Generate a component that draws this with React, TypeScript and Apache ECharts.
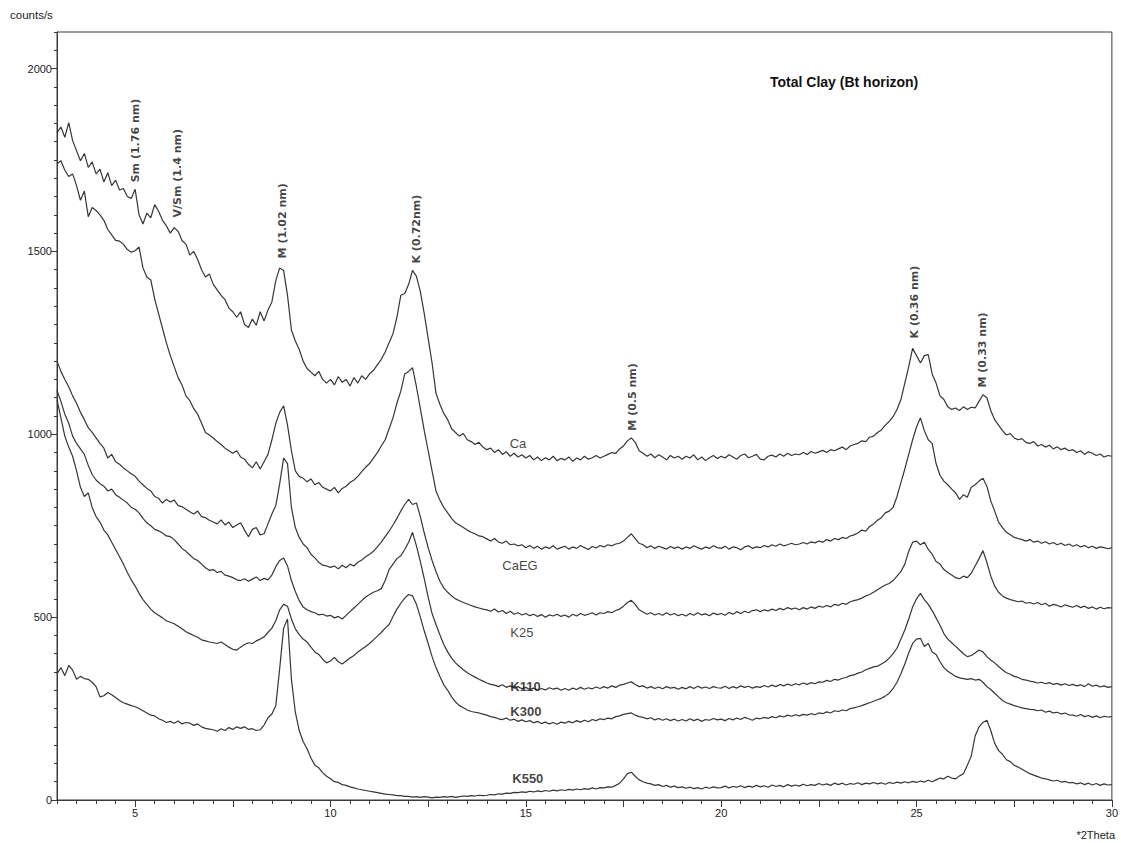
import React, { useEffect, useRef } from "react";
import * as echarts from "echarts";

// 2Theta grid (degrees), 3.0 .. 30.0 in 0.1 steps
const twoTheta: number[] = Array.from({ length: 271 }, (_, i) => Math.round(30 + i) / 10);

// counts/s, one row per degree (x.0 .. x.9), last value at 30.0
const ca = [
  1825, 1840, 1812, 1852, 1803, 1775, 1748, 1768, 1730, 1745,
  1712, 1725, 1690, 1715, 1680, 1695, 1668, 1672, 1650, 1645,
  1670, 1600, 1575, 1605, 1592, 1628, 1610, 1585, 1570, 1550,
  1565, 1555, 1530, 1520, 1490, 1500, 1478, 1450, 1430, 1438,
  1410, 1395, 1380, 1368, 1345, 1335, 1320, 1335, 1300, 1292,
  1315, 1298, 1335, 1310, 1340, 1362, 1420, 1455, 1448, 1380,
  1285, 1255, 1232, 1200, 1180, 1170, 1160, 1172, 1150, 1140,
  1150, 1135, 1158, 1142, 1150, 1132, 1155, 1140, 1160, 1150,
  1165, 1175, 1190, 1205, 1225, 1250, 1275, 1320, 1380, 1385,
  1410, 1448, 1432, 1390, 1330, 1262, 1195, 1112, 1082, 1057,
  1040, 1015, 1005, 995, 1002, 985, 980, 972, 978, 965,
  958, 962, 950, 958, 945, 952, 940, 948, 938, 944,
  935, 942, 930, 938, 928, 936, 930, 940, 928, 934,
  930, 938, 926, 935, 930, 940, 932, 936, 942, 935,
  940, 945, 950, 948, 960, 968, 982, 990, 978, 955,
  948, 940, 946, 936, 944, 938, 930, 942, 935, 940,
  932, 940, 935, 944, 930, 938, 928, 936, 942, 934,
  940, 935, 944, 938, 932, 942, 946, 936, 940, 945,
  932, 930, 940, 943, 938, 946, 940, 948, 942, 946,
  944, 950, 945, 953, 948, 952, 956, 950, 958, 955,
  960, 965, 958, 968, 972, 975, 982, 980, 992, 995,
  1005, 1012, 1025, 1035, 1048, 1068, 1095, 1140, 1185, 1235,
  1215, 1195, 1215, 1218, 1165, 1140, 1105, 1095, 1075, 1068,
  1072, 1065, 1075, 1068, 1074, 1072, 1090, 1108, 1100, 1065,
  1040, 1025, 1010, 998, 1002, 990, 985, 988, 978, 975,
  980, 968, 972, 965, 970, 960, 966, 958, 962, 955,
  958, 950, 955, 945, 952, 948, 942, 946, 938, 942,
  940,
];

const caEG = [
  1740, 1748, 1722, 1705, 1712, 1680, 1640, 1665, 1595, 1620,
  1612, 1600, 1585, 1560, 1545, 1530, 1528, 1520, 1505, 1498,
  1502, 1512, 1455, 1430, 1422, 1370, 1330, 1290, 1250, 1215,
  1185, 1155, 1135, 1105, 1092, 1070, 1055, 1030, 1005, 998,
  990, 980, 972, 962, 955, 948, 955, 938, 932, 918,
  908, 925, 905, 925, 945, 985, 1030, 1060, 1078, 1025,
  955, 900, 885, 880, 870, 878, 862, 868, 855, 850,
  845, 855, 840, 852, 858, 868, 875, 885, 898, 910,
  920, 935, 950, 968, 985, 1015, 1045, 1085, 1118, 1165,
  1172, 1182, 1130, 1070, 1010, 955, 900, 845, 820, 800,
  785, 770, 758, 752, 745, 738, 732, 728, 722, 720,
  714, 708, 715, 705, 702, 708, 698, 700, 695, 698,
  690, 696, 688, 694, 686, 692, 688, 695, 686, 690,
  694, 686, 692, 688, 696, 690, 685, 693, 689, 696,
  692, 698, 695, 700, 702, 708, 718, 728, 715, 702,
  698, 690, 695, 688, 694, 690, 686, 693, 688, 692,
  686, 692, 688, 695, 690, 686, 692, 688, 695, 690,
  688, 694, 686, 692, 690, 684, 692, 695, 688, 692,
  690, 696, 692, 698, 694, 700, 695, 698, 702, 698,
  700, 704, 700, 706, 703, 708, 705, 712, 708, 715,
  712, 718, 715, 722, 725, 730, 738, 735, 748, 755,
  765, 772, 785, 790, 800, 830, 868, 905, 945, 985,
  1020, 1045, 1010, 985, 975, 920, 888, 872, 862, 850,
  840, 822, 835, 828, 855, 862, 872, 880, 858, 818,
  790, 760, 745, 732, 725, 718, 715, 712, 708, 712,
  705, 708, 702, 706, 700, 704, 698, 702, 696, 700,
  694, 698, 692, 696, 690, 694, 688, 692, 690, 687,
  690,
];

const k25 = [
  1200, 1172, 1150, 1130, 1105, 1085, 1060, 1040, 1018, 1005,
  990, 975, 962, 935, 945, 925, 918, 908, 900, 892,
  885, 872, 862, 852, 845, 830, 825, 812, 822, 815,
  820, 805, 802, 795, 788, 782, 790, 775, 772, 765,
  760, 755, 766, 752, 760, 745, 752, 758, 738, 720,
  740, 745, 725, 728, 755, 782, 805, 865, 935, 920,
  800, 745, 718, 700, 690, 672, 662, 650, 642, 640,
  636, 640, 632, 642, 635, 645, 640, 650, 656, 665,
  672, 680, 692, 705, 720, 735, 752, 770, 790, 808,
  822, 808, 812, 775, 730, 690, 655, 625, 598, 580,
  568, 558, 550, 545, 540, 536, 532, 528, 525, 522,
  520, 516, 522, 514, 518, 510, 516, 508, 512, 506,
  510, 504, 508, 502, 507, 500, 506, 503, 508, 502,
  506, 500, 508, 503, 510, 505, 508, 512, 506, 512,
  510, 515, 512, 518, 522, 530, 540, 546, 535, 520,
  514, 508, 512, 506, 510, 505, 512, 506, 510, 504,
  508, 503, 510, 505, 512, 506, 509, 504, 511, 507,
  510, 505, 513, 508, 515, 510, 516, 512, 518, 520,
  515, 520, 517, 522, 518, 524, 520, 526, 522, 525,
  520, 526, 522, 528, 524, 530, 527, 532, 528, 535,
  532, 538, 535, 542, 545, 548, 552, 558, 562, 568,
  575, 582, 588, 592, 600, 612, 625, 645, 680, 705,
  708, 698, 705, 685, 672, 652, 645, 630, 622, 615,
  608, 605, 612, 608, 620, 640, 660, 682, 650, 612,
  585, 568, 558, 552, 548, 545, 542, 544, 538, 540,
  536, 540, 534, 538, 530, 535, 532, 528, 534, 530,
  527, 532, 526, 530, 524, 528, 522, 527, 523, 526,
  525,
];

const k110 = [
  1120, 1090, 1055, 1030, 995, 975, 960, 945, 915, 890,
  875, 865, 858, 845, 850, 835, 828, 820, 812, 800,
  795, 785, 770, 758, 750, 740, 736, 730, 722, 720,
  712, 700, 688, 680, 670, 660, 655, 645, 635, 628,
  630, 622, 625, 615, 612, 608, 602, 600, 605, 598,
  604, 610, 600, 606, 602, 615, 638, 655, 662, 640,
  600, 570, 545, 528, 520, 515, 512, 506, 508, 503,
  505, 498, 502, 495, 505, 515, 525, 535, 545, 555,
  562, 568, 572, 578, 600, 630, 645, 660, 668, 685,
  705, 732, 695, 652, 605, 555, 510, 480, 452, 425,
  405, 388, 375, 365, 356, 348, 342, 336, 330, 325,
  320, 316, 314, 310, 315, 308, 312, 306, 310, 304,
  308, 302, 306, 300, 305, 301, 307, 303, 306, 300,
  305, 300, 306, 302, 308, 303, 307, 304, 309, 305,
  310, 306, 312, 308, 314, 316, 320, 323, 316, 310,
  312, 306, 310, 305, 309, 304, 310, 306, 308, 303,
  308, 304, 310, 305, 311, 306, 309, 305, 310, 307,
  306, 311, 305, 310, 306, 312, 308, 311, 306, 310,
  308, 313, 309, 314, 310, 316, 312, 317, 313, 318,
  315, 320, 316, 321, 318, 323, 322, 327, 324, 330,
  328, 333, 335, 340, 342, 347, 350, 356, 360, 364,
  366, 372, 378, 388, 400, 415, 440, 465, 495, 528,
  550, 565, 548, 535, 518, 498, 478, 455, 440, 430,
  420, 410, 400, 392, 395, 402, 410, 405, 392, 383,
  375, 365, 356, 348, 344, 338, 335, 330, 328, 325,
  323, 320, 322, 318, 321, 316, 319, 314, 318, 313,
  316, 312, 315, 310, 318, 311, 314, 309, 312, 308,
  310,
];

const k300 = [
  1095, 1045, 995, 965, 940, 900, 855, 830, 840, 800,
  775, 760, 738, 725, 705, 685, 665, 645, 622, 602,
  585, 565, 548, 535, 522, 512, 505, 498, 490, 486,
  482, 475, 468, 460, 455, 450, 445, 438, 435, 432,
  430, 428, 432, 425, 418, 412, 410, 418, 425, 430,
  428, 435, 440, 446, 458, 470, 490, 520, 535, 530,
  495, 468, 452, 440, 432, 418, 405, 398, 385, 375,
  380, 390, 378, 372, 380, 388, 395, 405, 412, 420,
  428, 438, 448, 458, 470, 480, 502, 522, 538, 552,
  562, 558, 535, 500, 462, 428, 392, 362, 338, 315,
  300, 282, 268, 258, 252, 246, 242, 240, 238, 235,
  232, 228, 226, 222, 220, 224, 218, 221, 215, 219,
  214, 217, 211, 215, 209, 213, 208, 212, 207, 213,
  210, 215, 211, 217, 213, 218, 214, 220, 217, 222,
  220, 224, 222, 228, 230, 234, 236, 238, 232, 228,
  226, 222, 225, 219, 223, 218, 222, 217, 221, 216,
  220, 216, 222, 217, 221, 215, 220, 218, 223, 219,
  221, 217, 223, 219, 224, 220, 226, 222, 218, 224,
  222, 226, 223, 228, 225, 230, 227, 232, 229, 233,
  230, 234, 232, 236, 233, 238, 236, 241, 238, 244,
  242, 246, 244, 250, 252, 255, 258, 262, 266, 270,
  274, 278, 284, 292, 305, 322, 345, 372, 402, 428,
  440, 442, 420, 428, 405, 398, 378, 362, 352, 345,
  338, 334, 332, 330, 332, 328, 330, 322, 310, 302,
  292, 282, 272, 266, 262, 258, 255, 252, 250, 248,
  247, 244, 246, 240, 243, 238, 240, 235, 238, 233,
  232, 229, 234, 228, 231, 226, 230, 225, 229, 227,
  228,
];

const k550 = [
  345, 362, 340, 368, 355, 330, 338, 332, 330, 322,
  310, 282, 285, 294, 288, 280, 272, 266, 262, 258,
  255, 250, 244, 238, 232, 230, 222, 218, 212, 215,
  210, 216, 208, 212, 210, 204, 208, 200, 196, 194,
  192, 188, 195, 190, 198, 193, 200, 196, 200, 193,
  195, 190, 192, 205, 225, 235, 258, 360, 470, 495,
  330, 240, 190, 160, 140, 115, 95, 88, 75, 65,
  58, 50, 48, 42, 40, 36, 33, 30, 28, 26,
  24, 22, 20, 18, 16, 15, 14, 12, 12, 10,
  10, 8, 9, 7, 9, 8, 6, 8, 7, 9,
  8, 10, 7, 9, 11, 10, 12, 11, 13, 12,
  13, 15, 14, 17, 16, 19, 18, 21, 20, 22,
  21, 24, 22, 25, 23, 26, 24, 27, 25, 28,
  26, 29, 27, 30, 28, 31, 29, 33, 30, 34,
  33, 36, 35, 40, 46, 58, 72, 76, 65, 55,
  50, 46, 44, 40, 42, 37, 40, 35, 38, 34,
  36, 32, 35, 31, 34, 30, 35, 32, 36, 33,
  34, 38, 33, 37, 35, 39, 34, 38, 35, 40,
  36, 39, 35, 41, 37, 40, 36, 42, 38, 41,
  38, 43, 39, 42, 40, 45, 41, 44, 40, 46,
  42, 46, 41, 45, 43, 47, 42, 46, 44, 48,
  44, 47, 43, 48, 45, 49, 46, 50, 47, 51,
  48, 52, 49, 54, 50, 55, 60, 58, 65, 60,
  58, 66, 72, 95, 120, 175, 200, 212, 218, 190,
  155, 135, 125, 110, 105, 95, 90, 84, 78, 72,
  68, 64, 60, 58, 55, 52, 54, 49, 51, 47,
  48, 44, 47, 42, 46, 41, 45, 40, 44, 41,
  42,
];

const seriesNames = ["Ca", "CaEG", "K25", "K110", "K300", "K550"];
const seriesValues = [ca, caEG, k25, k110, k300, k550];

// curve name labels: [2Theta, counts/s] of the label centre
const nameLabelX = [14.8, 14.85, 14.9, 14.99, 15.0, 15.05];
const nameLabelY = [974, 640, 458, 309, 243, 60];
const nameLabelBold = [false, false, false, true, true, true];

// reflection labels: text, 2Theta, counts/s where the (vertical) text begins
const peakTexts = ["Sm (1.76 nm)", "V/Sm (1.4 nm)", "M (1.02 nm)", "K (0.72nm)", "M (0.5 nm)", "K (0.36 nm)", "M (0.33 nm)"];
const peakX = [5.0, 6.08, 8.78, 12.21, 17.74, 24.96, 26.7];
const peakY = [1689, 1593, 1481, 1467, 1010, 1262, 1128];

const xLabelValues = [5, 10, 15, 20, 25, 30];
const xMajorTicks = [5, 7.5, 10, 12.5, 15, 17.5, 20, 22.5, 25, 27.5, 30];
const yLabelValues = [0, 500, 1000, 1500, 2000];

const TITLE = "Total Clay (Bt horizon)";

export default function App() {
  const ref = useRef<HTMLDivElement>(null);
  useEffect(() => {
    if (!ref.current) return;
    const chart = echarts.init(ref.current, undefined, { renderer: "svg" });
    const axisColor = "#3a3a3a";
    const textColor = "#222";
    const font = "'Liberation Sans', Arial, sans-serif";
    const plain = (v: number) => String(v);

    const lineSeries = seriesNames.map((name, si) => ({
      name,
      type: "line",
      xAxisIndex: 0,
      yAxisIndex: 0,
      data: twoTheta.map((x, i) => [x, seriesValues[si][i]]),
      showSymbol: false,
      symbol: "none",
      silent: true,
      lineStyle: { color: "#363636", width: 1.2 },
      z: 2,
    }));

    const nameSeries = {
      type: "scatter",
      xAxisIndex: 0,
      yAxisIndex: 0,
      symbolSize: 0,
      silent: true,
      z: 5,
      data: seriesNames.map((n, i) => ({
        value: [nameLabelX[i], nameLabelY[i]],
        label: {
          show: true,
          formatter: n,
          position: "inside",
          align: "center",
          verticalAlign: "middle",
          fontFamily: font,
          fontSize: 13,
          fontWeight: nameLabelBold[i] ? "bold" : "normal",
          color: "#111",
        },
      })),
    };

    const peakSeries = {
      type: "scatter",
      xAxisIndex: 0,
      yAxisIndex: 0,
      symbolSize: 0,
      silent: true,
      z: 5,
      data: peakTexts.map((t, i) => ({
        value: [peakX[i], peakY[i]],
        label: {
          show: true,
          formatter: t,
          position: "inside",
          rotate: 90,
          align: "left",
          verticalAlign: "middle",
          fontFamily: "'DejaVu Sans', Verdana, sans-serif",
          fontSize: 11,
          fontWeight: "bold",
          color: "#111",
        },
      })),
    };

    chart.setOption({
      animation: false,
      grid: {
        left: 57,
        right: 9,
        top: 32,
        bottom: 43,
        show: true,
        borderColor: axisColor,
        borderWidth: 1,
        backgroundColor: "transparent",
      },
      xAxis: [
        {
          type: "value",
          min: 3,
          max: 30,
          position: "bottom",
          axisLine: { show: true, lineStyle: { color: axisColor, width: 1 } },
          axisTick: { show: true, customValues: xMajorTicks, length: 7, lineStyle: { color: axisColor } },
          axisLabel: { customValues: xLabelValues, formatter: plain, fontSize: 11, color: textColor, fontFamily: font, margin: 7 },
          splitLine: { show: false },
        },
        {
          type: "value",
          min: 3,
          max: 30,
          interval: 0.5,
          position: "bottom",
          axisLine: { show: false },
          axisTick: { show: true, length: 4, lineStyle: { color: axisColor } },
          axisLabel: { show: false },
          splitLine: { show: false },
        },
      ],
      yAxis: [
        {
          type: "value",
          min: 0,
          max: 2100,
          position: "left",
          axisLine: { show: true, lineStyle: { color: axisColor, width: 1 } },
          axisTick: { show: true, customValues: yLabelValues, length: 6, lineStyle: { color: axisColor } },
          axisLabel: { customValues: yLabelValues, formatter: plain, fontSize: 11, color: textColor, fontFamily: font, margin: 5 },
          splitLine: { show: false },
        },
        {
          type: "value",
          min: 0,
          max: 2100,
          interval: 50,
          position: "left",
          axisLine: { show: false },
          axisTick: { show: true, length: 3, lineStyle: { color: axisColor } },
          axisLabel: { show: false },
          splitLine: { show: false },
        },
      ],
      graphic: [
        {
          type: "text",
          left: 10,
          top: 9,
          style: { text: "counts/s", fontSize: 11.5, fill: textColor, fontFamily: font },
        },
        {
          type: "text",
          right: 6,
          top: 829,
          style: { text: "*2Theta", fontSize: 11, fill: textColor, fontFamily: font },
        },
        {
          type: "text",
          left: 770,
          top: 75,
          style: { text: TITLE, fontSize: 14, fontWeight: "bold", fill: "#111", fontFamily: font },
        },
      ],
      series: [...lineSeries, nameSeries, peakSeries],
    });
    return () => chart.dispose();
  }, []);

  return (
    <div
      ref={ref}
      style={{ position: "absolute", left: 0, top: 0, width: 1121, height: 843, background: "#fff" }}
    />
  );
}
